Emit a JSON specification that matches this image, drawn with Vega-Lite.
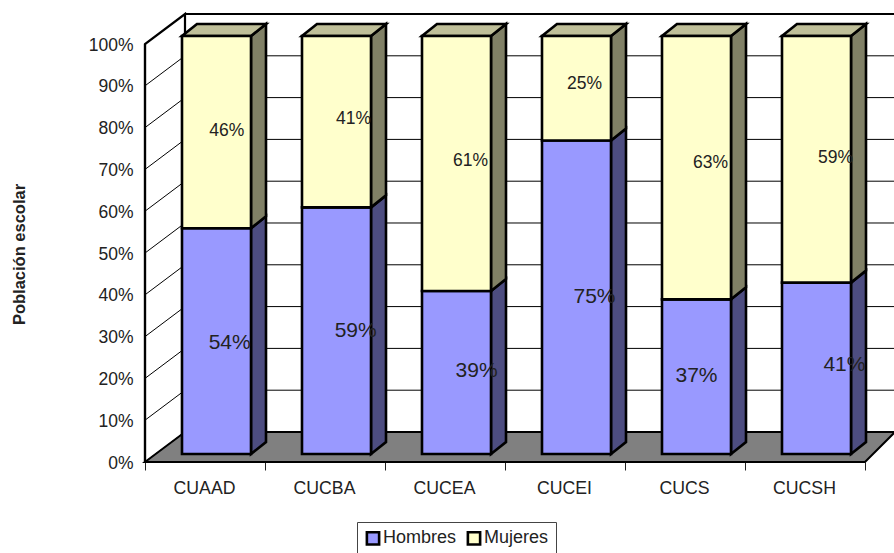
{"$schema":"https://vega.github.io/schema/vega-lite/v6.json","width":750,"height":448,"autosize":"none","padding":{"left":145,"top":14,"right":0,"bottom":91},"background":"white","config":{"view":{"stroke":null}},
"datasets":{"bars":[
{"centro":"CUAAD","serie":"Hombres","pct":54,"shift":0.11,"vshift":-0.5},{"centro":"CUAAD","serie":"Mujeres","pct":46,"shift":0.085,"vshift":0.24},
{"centro":"CUCBA","serie":"Hombres","pct":59,"shift":0.16,"vshift":0},{"centro":"CUCBA","serie":"Mujeres","pct":41,"shift":0.142,"vshift":0.7},
{"centro":"CUCEA","serie":"Hombres","pct":39,"shift":0.167,"vshift":0.24},{"centro":"CUCEA","serie":"Mujeres","pct":61,"shift":0.117,"vshift":0.5},
{"centro":"CUCEI","serie":"Hombres","pct":75,"shift":0.15,"vshift":0},{"centro":"CUCEI","serie":"Mujeres","pct":25,"shift":0.067,"vshift":1},
{"centro":"CUCS","serie":"Hombres","pct":37,"shift":0,"vshift":0.24},{"centro":"CUCS","serie":"Mujeres","pct":63,"shift":0.117,"vshift":1.2},
{"centro":"CUCSH","serie":"Hombres","pct":41,"shift":0.233,"vshift":0.7},{"centro":"CUCSH","serie":"Mujeres","pct":59,"shift":0.158,"vshift":0.24}],
"ticks":[{"t":0},{"t":10},{"t":20},{"t":30},{"t":40},{"t":50},{"t":60},{"t":70},{"t":80},{"t":90},{"t":100}],
"floor":[{"u":0,"u2":6,"v":0},{"u":0.3333,"u2":6.25,"v":7.18}],
"edge":[{"u":0,"v":0,"ve":100}],
"frame":[{"seg":"wall","paso":1,"u":0,"v":0},{"seg":"wall","paso":2,"u":0,"v":100},{"seg":"wall","paso":3,"u":0.3333,"v":107.18},{"seg":"wall","paso":4,"u":0.3333,"v":7.18},{"seg":"top","paso":1,"u":0.3333,"v":107.18},{"seg":"top","paso":2,"u":6.25,"v":107.18}]},
"encoding":{
"x":{"field":"u","type":"quantitative","scale":{"domain":[0,6.25],"nice":false,"zero":false},"axis":{"title":null,"grid":false,"domain":false,"values":[0,0.5,1,1.5,2,2.5,3,3.5,4,4.5,5,5.5,6],"labelExpr":"datum.value % 1 == 0 ? '' : ['CUAAD','CUCBA','CUCEA','CUCEI','CUCS','CUCSH'][floor(datum.value)]","tickColor":"#222222","tickSize":8,"tickOpacity":{"condition":{"test":"datum.value % 1 != 0","value":0},"value":1},"labelFont":"Liberation Sans","labelFontSize":17.7,"labelColor":"#222222","labelPadding":9,"labelOverlap":false,"labelFlush":false,"labelOffset":-1}},
"y":{"field":"v","type":"quantitative","scale":{"domain":[0,107.18],"nice":false,"zero":false},"axis":{"title":"Población escolar","titleFont":"Liberation Sans","titleFontSize":16.5,"titleFontWeight":"bold","titleColor":"#222222","titleX":-118,"titleY":240,"grid":false,"domain":false,"ticks":false,"values":[0,10,20,30,40,50,60,70,80,90,100],"labelExpr":"datum.value + '%'","labelFont":"Liberation Sans","labelFontSize":17.5,"labelColor":"#222222","labelPadding":12,"labelOffset":1,"labelOverlap":false}}},
"layer":[
{"data":{"name":"ticks"},"transform":[{"calculate":"0.3333","as":"u"},{"calculate":"datum.t+7.18","as":"v"},{"calculate":"6.25","as":"ue"}],"mark":{"type":"rule","color":"#000000","strokeWidth":1},"encoding":{"x2":{"field":"ue"}}},
{"data":{"name":"floor"},"mark":{"type":"area","orient":"horizontal","fill":"#808080","stroke":"#000000","strokeWidth":2},"encoding":{"x2":{"field":"u2"}}},
{"data":{"name":"frame"},"transform":[{"filter":"datum.seg=='wall'"}],"mark":{"type":"line","color":"#000000","strokeWidth":2.2,"interpolate":"linear"},"encoding":{"order":{"field":"paso","type":"quantitative"},"detail":{"field":"seg"}}},
{"data":{"name":"edge"},"mark":{"type":"rule","color":"#000000","strokeWidth":2.2},"encoding":{"y2":{"field":"ve"}}},
{"data":{"name":"frame"},"transform":[{"filter":"datum.seg=='top'"}],"mark":{"type":"line","color":"#000000","strokeWidth":2},"encoding":{"order":{"field":"paso","type":"quantitative"},"detail":{"field":"seg"}}},
{"data":{"name":"ticks"},"transform":[{"calculate":"0","as":"u"},{"calculate":"datum.t","as":"v"},{"calculate":"0.3333","as":"ue"},{"calculate":"datum.t+7.18","as":"ve"}],"mark":{"type":"rule","color":"#000000","strokeWidth":1},"encoding":{"x2":{"field":"ue"},"y2":{"field":"ve"}}},
{"data":{"name":"bars"},"transform":[{"stack":"pct","groupby":["centro"],"sort":[{"field":"serie","order":"ascending"}],"as":["lo","hi"]},{"calculate":"indexof(['CUAAD','CUCBA','CUCEA','CUCEI','CUCS','CUCSH'],datum.centro)","as":"idx"},{"filter":"datum.serie=='Hombres'"},{"calculate":"[0,1]","as":"d"},{"flatten":["d"]},{"calculate":"datum.idx+0.8833+datum.d*0.125","as":"u"},{"calculate":"datum.lo+1.914+datum.d*2.87","as":"v"},{"calculate":"datum.hi+1.914+datum.d*2.87","as":"ve"}],"mark":{"type":"area","orient":"vertical","fill":"#4D4D80","stroke":"#000000","strokeWidth":2.6},"encoding":{"y2":{"field":"ve"},"detail":{"field":"centro"}}},
{"data":{"name":"bars"},"transform":[{"stack":"pct","groupby":["centro"],"sort":[{"field":"serie","order":"ascending"}],"as":["lo","hi"]},{"calculate":"indexof(['CUAAD','CUCBA','CUCEA','CUCEI','CUCS','CUCSH'],datum.centro)","as":"idx"},{"filter":"datum.serie=='Mujeres'"},{"calculate":"[0,1]","as":"d"},{"flatten":["d"]},{"calculate":"datum.idx+0.8833+datum.d*0.125","as":"u"},{"calculate":"datum.lo+1.914+datum.d*2.87","as":"v"},{"calculate":"datum.hi+1.914+datum.d*2.87","as":"ve"}],"mark":{"type":"area","orient":"vertical","fill":"#808066","stroke":"#000000","strokeWidth":2.6},"encoding":{"y2":{"field":"ve"},"detail":{"field":"centro"}}},
{"data":{"name":"bars"},"transform":[{"stack":"pct","groupby":["centro"],"sort":[{"field":"serie","order":"ascending"}],"as":["lo","hi"]},{"calculate":"indexof(['CUAAD','CUCBA','CUCEA','CUCEI','CUCS','CUCSH'],datum.centro)","as":"idx"},{"filter":"datum.serie=='Mujeres'"},{"calculate":"[0,1]","as":"d"},{"flatten":["d"]},{"calculate":"datum.idx+0.3083+datum.d*0.125","as":"u"},{"calculate":"datum.idx+0.8833+datum.d*0.125","as":"ue"},{"calculate":"datum.hi+1.914+datum.d*2.87","as":"v"}],"mark":{"type":"area","orient":"horizontal","fill":"#BFBF99","stroke":"#000000","strokeWidth":2.6},"encoding":{"x2":{"field":"ue"},"detail":{"field":"centro"}}},
{"data":{"name":"bars"},"transform":[{"stack":"pct","groupby":["centro"],"sort":[{"field":"serie","order":"ascending"}],"as":["lo","hi"]},{"calculate":"indexof(['CUAAD','CUCBA','CUCEA','CUCEI','CUCS','CUCSH'],datum.centro)","as":"idx"},{"calculate":"datum.idx+0.3083","as":"u"},{"calculate":"datum.idx+0.8833","as":"ue"},{"calculate":"datum.lo+1.914","as":"v"},{"calculate":"datum.hi+1.914","as":"ve"}],"mark":{"type":"rect","stroke":"#000000","strokeWidth":2.6},"encoding":{"x2":{"field":"ue"},"y2":{"field":"ve"},"color":{"field":"serie","type":"nominal","scale":{"domain":["Hombres","Mujeres"],"range":["#9999FF","#FFFFCC"]},"legend":{"title":null,"orient":"none","direction":"horizontal","columns":2,"legendX":212,"legendY":508,"fillColor":"#FFFFFF","strokeColor":"#444444","padding":7,"symbolType":"square","symbolSize":150,"symbolStrokeColor":"#000000","symbolStrokeWidth":2.6,"symbolOpacity":1,"labelFont":"Liberation Sans","labelFontSize":18,"labelColor":"#222222","labelOffset":1,"columnPadding":5}}}},
{"data":{"name":"bars"},"transform":[{"stack":"pct","groupby":["centro"],"sort":[{"field":"serie","order":"ascending"}],"as":["lo","hi"]},{"calculate":"indexof(['CUAAD','CUCBA','CUCEA','CUCEI','CUCS','CUCSH'],datum.centro)","as":"idx"},{"filter":"datum.serie=='Hombres'"},{"calculate":"datum.idx+0.5958+datum.shift","as":"u"},{"calculate":"(datum.lo+datum.hi)/2+1.914+datum.vshift","as":"v"},{"calculate":"datum.pct+'%'","as":"etq"}],"mark":{"type":"text","font":"Liberation Sans","fontSize":21,"color":"#222222"},"encoding":{"text":{"field":"etq"}}},
{"data":{"name":"bars"},"transform":[{"stack":"pct","groupby":["centro"],"sort":[{"field":"serie","order":"ascending"}],"as":["lo","hi"]},{"calculate":"indexof(['CUAAD','CUCBA','CUCEA','CUCEI','CUCS','CUCSH'],datum.centro)","as":"idx"},{"filter":"datum.serie=='Mujeres'"},{"calculate":"datum.idx+0.5958+datum.shift","as":"u"},{"calculate":"(datum.lo+datum.hi)/2+1.914+datum.vshift","as":"v"},{"calculate":"datum.pct+'%'","as":"etq"}],"mark":{"type":"text","font":"Liberation Sans","fontSize":17.5,"color":"#222222"},"encoding":{"text":{"field":"etq"}}}
]}
